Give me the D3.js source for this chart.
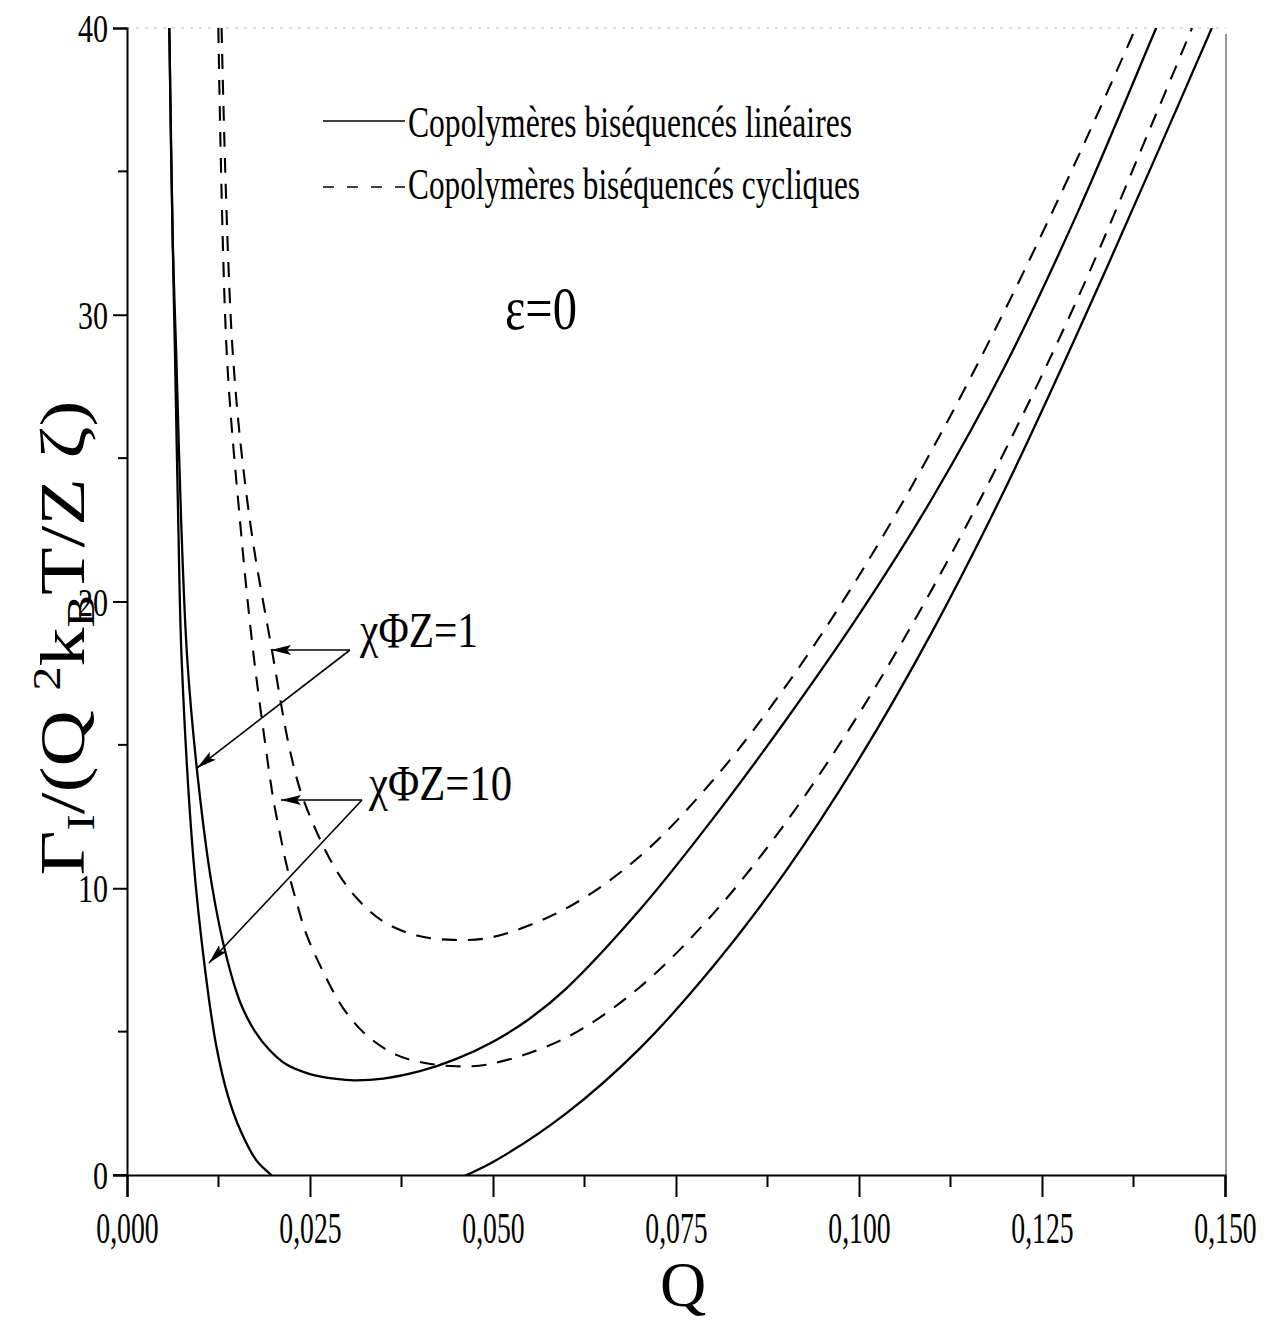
<!DOCTYPE html>
<html>
<head>
<meta charset="utf-8">
<script src="https://cdn.jsdelivr.net/npm/d3@7"></script>
<style>
  html, body { margin: 0; padding: 0; background: #fff; }
  svg { display: block; }
  text { font-family: "Liberation Serif", "DejaVu Serif", serif; fill: #000; }
</style>
</head>
<body>
<svg id="chart" width="1269" height="1325"></svg>
<script>
// ---------- data (Q, Γ/(Q²kBT/Zζ)) ----------
const linearChi1 = [
  [0.00578,40],[0.00625,32.5],[0.00672,28.7],[0.0074,22.8],[0.00824,17.96],[0.00974,13.7],
  [0.0116,10.1],[0.0136,7.6],[0.0155,6.0],[0.0175,5.0],[0.0195,4.35],[0.0218,3.85],
  [0.025,3.52],[0.0286,3.35],[0.031,3.3],[0.035,3.36],[0.040,3.62],[0.045,4.05],
  [0.05,4.65],[0.055,5.45],[0.06,6.5],[0.07,9.23],[0.08,12.41],[0.09,15.86],[0.10,19.54],
  [0.11,23.6],[0.12,28.24],[0.13,33.64],[0.14,39.64],[0.1406,40]
];
const linearChi10Left = [
  [0.00578,40],[0.00625,32.5],[0.00655,28.7],[0.00700,22.8],[0.00747,17.96],[0.00906,11.05],
  [0.01065,7.2],[0.0122,4.5],[0.0138,2.75],[0.0155,1.55],[0.0177,0.5],[0.0197,0],[0.0205,-0.2]
];
const linearChi10Right = [
  [0.0455,-0.1],[0.0464,0],[0.05,0.45],[0.06,2.15],[0.07,4.4],[0.08,7.25],[0.09,10.6],
  [0.10,14.5],[0.11,18.95],[0.12,23.95],[0.13,29.45],[0.14,35.2],[0.1482,40]
];
const cyclicChi1 = [
  [0.01292,40],[0.01444,28.7],[0.0168,22.8],[0.0198,18.3],[0.02227,14.8],[0.0241,13.1],
  [0.02819,10.8],[0.0314,9.65],[0.0350,8.84],[0.0396,8.35],[0.0446,8.2],[0.05,8.3],
  [0.06,9.3],[0.07,11.1],[0.08,13.75],[0.09,17.05],[0.10,20.9],[0.11,25.3],[0.12,30.2],
  [0.13,35.55],[0.1378,40]
];
const cyclicChi10 = [
  [0.01248,40],[0.01362,28.7],[0.01544,22.8],[0.01717,18.4],[0.01885,15.1],[0.01999,13.1],
  [0.0209,11.9],[0.02181,10.8],[0.02318,9.5],[0.02454,8.37],[0.0268,7.09],[0.02955,5.81],
  [0.0327,4.88],[0.0368,4.19],[0.0409,3.9],[0.045,3.79],[0.05,3.89],[0.06,4.79],[0.07,6.54],
  [0.08,9.09],[0.09,12.29],[0.10,16.09],[0.11,20.44],[0.12,25.29],[0.13,30.64],[0.14,36.64],
  [0.1455,40]
];
const xTicks = [0, 0.025, 0.05, 0.075, 0.1, 0.125, 0.15];
const xTickLabels = ["0,000","0,025","0,050","0,075","0,100","0,125","0,150"];
const xMinorTicks = [0.0125, 0.0375, 0.0625, 0.0875, 0.1125, 0.1375];
const yTicks = [0, 10, 20, 30, 40];
const yTickLabels = ["0","10","20","30","40"];
const yMinorTicks = [5, 15, 25, 35];
const legendLabels = ["Copolymères biséquencés linéaires", "Copolymères biséquencés cycliques"];

// ---------- scales ----------
const x = d3.scaleLinear().domain([0, 0.150]).range([127, 1225]);
const y = d3.scaleLinear().domain([0, 40]).range([1175, 28]);

const svg = d3.select("#chart");
const defs = svg.append("defs");
defs.append("clipPath").attr("id","plotclip").append("rect")
  .attr("x", x(0)).attr("y", y(40)).attr("width", x(0.15)-x(0)).attr("height", y(0)-y(40));
defs.append("marker").attr("id","arrow").attr("viewBox","0 0 20 10")
  .attr("refX",20).attr("refY",5).attr("markerWidth",20).attr("markerHeight",10)
  .attr("markerUnits","userSpaceOnUse").attr("orient","auto")
  .append("path").attr("d","M0,0 L20,5 L0,10 L4,5 Z").attr("fill","#000");

// frame: faint top and right
svg.append("line").attr("x1",x(0)).attr("x2",x(0.15)+1).attr("y1",y(40)).attr("y2",y(40))
  .attr("stroke","#bbb").attr("stroke-width",1).attr("stroke-dasharray","3,6");
svg.append("line").attr("x1",x(0.15)+1).attr("x2",x(0.15)+1).attr("y1",y(40)+6).attr("y2",y(0)+4)
  .attr("stroke","#555").attr("stroke-width",1.2);

// y axis
const yAxis = d3.axisLeft(y).tickValues(yTicks).tickSize(14).tickFormat((d,i)=>yTickLabels[i]).tickPadding(5);
const gy = svg.append("g").attr("transform",`translate(${x(0)},0)`).call(yAxis);
gy.select(".domain").attr("stroke","#000").attr("stroke-width",2);
gy.selectAll(".tick line").attr("stroke","#000").attr("stroke-width",2);
gy.selectAll(".tick text").attr("font-size",40).attr("font-family","Liberation Serif")
  .attr("textLength", (d,i)=> yTickLabels[i].length*15).attr("lengthAdjust","spacingAndGlyphs")
  .attr("dy","0.34em");
gy.selectAll(".minor").data(yMinorTicks).enter().append("line")
  .attr("x1",-9).attr("x2",0).attr("y1",d=>y(d)).attr("y2",d=>y(d))
  .attr("stroke","#000").attr("stroke-width",2);

// x axis
const xAxis = d3.axisBottom(x).tickValues(xTicks).tickSize(22).tickFormat((d,i)=>xTickLabels[i]).tickPadding(14);
const gx = svg.append("g").attr("transform",`translate(0,${y(0)})`).call(xAxis);
gx.select(".domain").attr("stroke","#000").attr("stroke-width",2.2);
gx.selectAll(".tick line").attr("stroke","#000").attr("stroke-width",2);
gx.selectAll(".tick text").attr("font-size",44).attr("font-family","Liberation Serif")
  .attr("transform","scale(0.63,1)").attr("dy","0.72em");
gx.selectAll(".minor").data(xMinorTicks).enter().append("line")
  .attr("x1",d=>x(d)).attr("x2",d=>x(d)).attr("y1",0).attr("y2",12)
  .attr("stroke","#000").attr("stroke-width",2);
gx.append("line").attr("x1",x(0)-14).attr("x2",x(0)).attr("y1",0).attr("y2",0)
  .attr("stroke","#000").attr("stroke-width",2);

// curves
const line = d3.line().x(d=>x(d[0])).y(d=>y(d[1])).curve(d3.curveCatmullRom.alpha(0.5));
const plot = svg.append("g").attr("clip-path","url(#plotclip)");
[linearChi1, linearChi10Left, linearChi10Right].forEach(s=>{
  plot.append("path").attr("d", line(s)).attr("fill","none").attr("stroke","#000").attr("stroke-width",2.3);
});
[cyclicChi1, cyclicChi10].forEach(s=>{
  plot.append("path").attr("d", line(s)).attr("fill","none").attr("stroke","#000")
    .attr("stroke-width",2.1).attr("stroke-dasharray","15,11");
});

// legend
svg.append("line").attr("x1",323).attr("x2",405).attr("y1",121).attr("y2",121)
  .attr("stroke","#000").attr("stroke-width",1.6);
svg.append("line").attr("x1",323).attr("x2",405).attr("y1",187).attr("y2",187)
  .attr("stroke","#000").attr("stroke-width",1.6).attr("stroke-dasharray","11,13");
svg.append("text").attr("x",408).attr("y",137).attr("font-size",44)
  .attr("textLength",444).attr("lengthAdjust","spacingAndGlyphs").text(legendLabels[0]);
svg.append("text").attr("x",408).attr("y",199).attr("font-size",44)
  .attr("textLength",452).attr("lengthAdjust","spacingAndGlyphs").text(legendLabels[1]);

// epsilon label
svg.append("text").attr("x",505).attr("y",329).attr("font-size",62)
  .attr("textLength",72).attr("lengthAdjust","spacingAndGlyphs").text("ε=0");

// annotations
svg.append("text").attr("x",360).attr("y",647).attr("font-size",50)
  .attr("textLength",118).attr("lengthAdjust","spacingAndGlyphs").text("χΦZ=1");
svg.append("text").attr("x",369).attr("y",800).attr("font-size",50)
  .attr("textLength",143).attr("lengthAdjust","spacingAndGlyphs").text("χΦZ=10");
const arrows = [
  [350,650,271,650],[350,650,197,768],
  [362,800,281,800],[362,800,209,963]
];
arrows.forEach(a=>{
  svg.append("line").attr("x1",a[0]).attr("y1",a[1]).attr("x2",a[2]).attr("y2",a[3])
    .attr("stroke","#000").attr("stroke-width",1.6).attr("marker-end","url(#arrow)");
});

// axis titles
svg.append("text").attr("x",683).attr("y",1306).attr("text-anchor","middle").attr("font-size",64).text("Q");
const yt = svg.append("text").attr("transform","translate(84,638) rotate(-90)")
  .attr("text-anchor","middle").attr("font-size",64)
  .attr("textLength",475).attr("lengthAdjust","spacingAndGlyphs");
yt.append("tspan").text("Γ");
yt.append("tspan").attr("font-size",40).attr("dy",10).text("I");
yt.append("tspan").attr("dy",-10).text("/(Q ");
yt.append("tspan").attr("font-size",40).attr("dy",-24).text("2");
yt.append("tspan").attr("dy",24).text("k");
yt.append("tspan").attr("font-size",40).attr("dy",10).text("B");
yt.append("tspan").attr("dy",-10).text("T/Z ζ)");
</script>
</body>
</html>
